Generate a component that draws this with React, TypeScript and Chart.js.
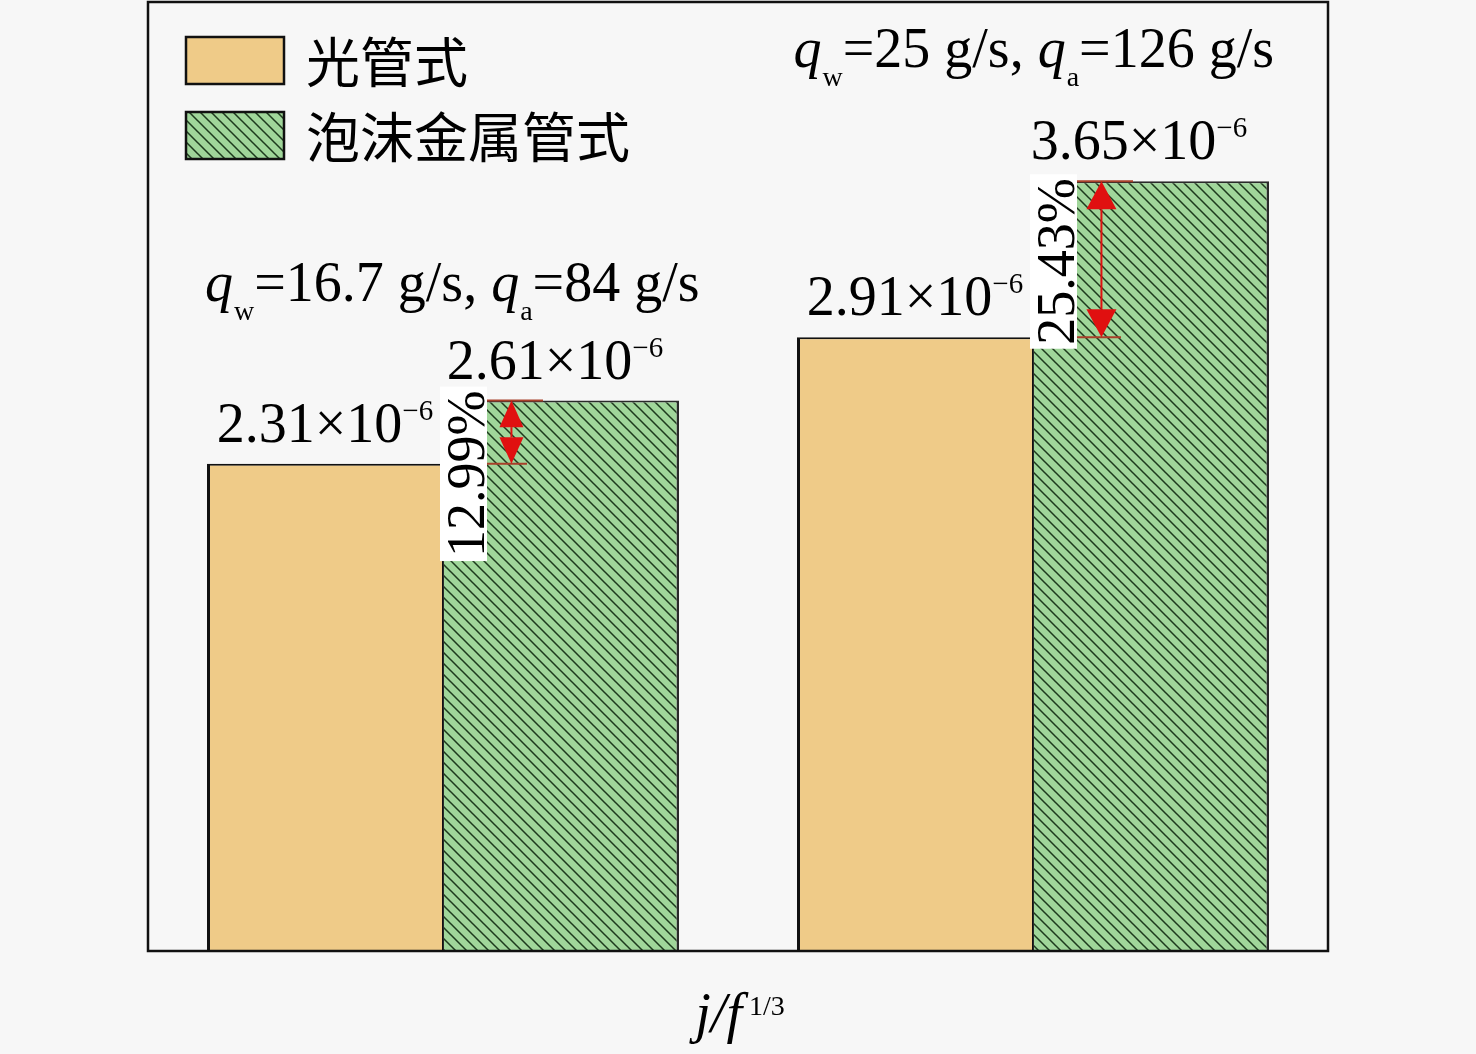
import React, { useEffect, useRef } from "react";
import { Chart, registerables } from "chart.js";

Chart.register(...registerables);

// ---------- data ----------
const categories = ["工况1", "工况2"];
const seriesNames = ["光管式", "泡沫金属管式"];
const smoothTube = [2.31, 2.91];
const foamTube = [2.61, 3.65];
const smoothLabels = ["2.31", "2.91"];
const foamLabels = ["2.61", "3.65"];
const increaseLabels = ["12.99%", "25.43%"];
const waterFlow = ["16.7", "25"];
const airFlow = ["84", "126"];
const exponentText = "−6";
const yMin = 0;
const yMax = 4.5;

// ---------- styles ----------
const BG = "#f7f7f7";
const TAN = "#efcb88";
const GREEN = "#a0d69a";
const HATCH = "#1d3a1d";
const ARROW_RED = "#e01010";
const TICK_RED = "#a8402a";
const SERIF = "'Liberation Serif', 'Times New Roman', 'Noto Sans CJK SC', serif";
const CJK = "'Noto Sans CJK SC', 'Liberation Serif', sans-serif";

type Seg = { t: string; size: number; italic?: boolean; dy?: number; gap?: number };

function segFont(s: Seg) {
  return `${s.italic ? "italic " : ""}${s.size}px ${SERIF}`;
}

function drawRich(ctx: CanvasRenderingContext2D, segs: Seg[], x: number, y: number, align: "left" | "center" | "right") {
  ctx.save();
  ctx.textAlign = "left";
  ctx.textBaseline = "alphabetic";
  const widths = segs.map((s) => {
    ctx.font = segFont(s);
    return ctx.measureText(s.t).width + (s.gap || 0);
  });
  const total = widths.reduce((a, b) => a + b, 0);
  let cx = align === "center" ? x - total / 2 : align === "right" ? x - total : x;
  segs.forEach((s, i) => {
    ctx.font = segFont(s);
    ctx.fillText(s.t, cx, y + (s.dy || 0));
    cx += widths[i];
  });
  ctx.restore();
}

function makeHatch(): CanvasPattern | string {
  const size = 11;
  const c = document.createElement("canvas");
  c.width = size;
  c.height = size;
  const g = c.getContext("2d");
  if (!g) return GREEN;
  g.fillStyle = GREEN;
  g.fillRect(0, 0, size, size);
  g.strokeStyle = HATCH;
  g.lineWidth = 1.5;
  g.beginPath();
  g.moveTo(-1, -1);
  g.lineTo(size + 1, size + 1);
  g.moveTo(-1, size - 1);
  g.lineTo(1, size + 1);
  g.moveTo(size - 1, -1);
  g.lineTo(size + 1, 1);
  g.stroke();
  const p = g.createPattern(c, "repeat");
  return p || GREEN;
}

function valueSegs(label: string): Seg[] {
  return [
    { t: `${label}×10`, size: 56 },
    { t: exponentText, size: 29, dy: -22 },
  ];
}

function conditionSegs(w: string, a: string): Seg[] {
  return [
    { t: "q", size: 56, italic: true, gap: 1 },
    { t: "w", size: 28, dy: 19 },
    { t: `=${w} g/s, `, size: 56 },
    { t: "q", size: 56, italic: true, gap: 1 },
    { t: "a", size: 28, dy: 19 },
    { t: `=${a} g/s`, size: 56 },
  ];
}

function drawTri(ctx: CanvasRenderingContext2D, x: number, tipY: number, dir: number, w: number, h: number) {
  ctx.beginPath();
  ctx.moveTo(x, tipY);
  ctx.lineTo(x - w / 2, tipY + dir * h);
  ctx.lineTo(x + w / 2, tipY + dir * h);
  ctx.closePath();
  ctx.fill();
}

const annotPlugin = {
  id: "annot",
  beforeDraw(chart: any) {
    const ctx = chart.ctx as CanvasRenderingContext2D;
    ctx.save();
    ctx.fillStyle = BG;
    ctx.fillRect(0, 0, chart.width, chart.height);
    ctx.restore();
  },
  afterDatasetsDraw(chart: any) {
    const ctx = chart.ctx as CanvasRenderingContext2D;
    const area = chart.chartArea;
    const m0 = chart.getDatasetMeta(0).data;
    const m1 = chart.getDatasetMeta(1).data;

    ctx.save();
    ctx.fillStyle = "#000";

    for (let i = 0; i < categories.length; i++) {
      const b0 = m0[i];
      const b1 = m1[i];
      // value labels
      drawRich(ctx, valueSegs(smoothLabels[i]), b0.x, b0.y - 22, "center");
      drawRich(ctx, valueSegs(foamLabels[i]), b1.x - (i === 1 ? 12 : 6), b1.y - 22, "center");

      // arrows
      const left1 = b1.x - b1.width / 2;
      const ax = left1 + b1.width * 0.29;
      const yTop = b1.y;
      const yBot = b0.y;
      const span = yBot - yTop;
      const headH = Math.min(28, span * 0.42);
      const headW = i === 0 ? 24 : 30;
      ctx.strokeStyle = TICK_RED;
      ctx.lineWidth = 2;
      ctx.beginPath();
      ctx.moveTo(left1 + 2, yTop);
      ctx.lineTo(left1 + 100, yTop);
      ctx.moveTo(left1 + 2, yBot);
      ctx.lineTo(left1 + (i === 0 ? 84 : 88), yBot);
      ctx.stroke();
      ctx.strokeStyle = ARROW_RED;
      ctx.lineWidth = 2;
      ctx.beginPath();
      ctx.moveTo(ax, yTop + headH);
      ctx.lineTo(ax, yBot - headH);
      ctx.stroke();
      ctx.fillStyle = ARROW_RED;
      drawTri(ctx, ax, yTop, 1, headW, headH);
      drawTri(ctx, ax, yBot, -1, headW, headH);

      // percentage label (rotated)
      ctx.save();
      const baseX = b0.x + b0.width / 2 + 41;
      const endY = yTop - (i === 0 ? 10 : 3);
      ctx.font = `54px ${SERIF}`;
      const tw = ctx.measureText(increaseLabels[i]).width;
      ctx.fillStyle = "#ffffff";
      ctx.fillRect(baseX - 44, endY - 4, 47, tw + 8);
      ctx.translate(baseX, endY);
      ctx.rotate(-Math.PI / 2);
      ctx.fillStyle = "#000";
      ctx.textAlign = "right";
      ctx.textBaseline = "alphabetic";
      ctx.fillText(increaseLabels[i], 0, 0);
      ctx.restore();
      ctx.fillStyle = "#000";
    }

    // condition labels
    {
      const b0 = m0[0];
      const b1 = m1[0];
      drawRich(ctx, conditionSegs(waterFlow[0], airFlow[0]), b0.x - b0.width / 2 - 2, b1.y - 100, "left");
    }
    {
      const b1 = m1[1];
      drawRich(ctx, conditionSegs(waterFlow[1], airFlow[1]), b1.x + b1.width / 2 + 5, b1.y - 114, "right");
    }

    // legend
    const lx = area.left + 38;
    const boxes = [
      { y: area.top + 35, fill: TAN as any },
      { y: area.top + 110, fill: chart.data.datasets[1].backgroundColor },
    ];
    boxes.forEach((b, k) => {
      ctx.fillStyle = b.fill;
      ctx.fillRect(lx, b.y, 98, 47);
      ctx.strokeStyle = "#111";
      ctx.lineWidth = 2.5;
      ctx.strokeRect(lx, b.y, 98, 47);
      ctx.fillStyle = "#000";
      ctx.font = `54px ${CJK}`;
      ctx.textAlign = "left";
      ctx.textBaseline = "middle";
      ctx.fillText(seriesNames[k], lx + 120, b.y + 25);
    });

    // frame
    ctx.strokeStyle = "#111";
    ctx.lineWidth = 2.5;
    ctx.strokeRect(area.left, area.top, area.right - area.left, area.bottom - area.top);

    // axis title
    ctx.fillStyle = "#000";
    drawRich(
      ctx,
      [
        { t: "j/f", size: 56, italic: true, gap: 7 },
        { t: "1/3", size: 28, dy: -17 },
      ],
      (area.left + area.right) / 2 + 2,
      area.bottom + 81,
      "center"
    );
    ctx.restore();
  },
};

export default function App() {
  const ref = useRef<HTMLCanvasElement | null>(null);

  useEffect(() => {
    document.body.style.margin = "0";
    document.body.style.background = BG;
    const canvas = ref.current;
    if (!canvas) return;
    const hatch = makeHatch();
    const chart = new Chart(canvas, {
      type: "bar",
      data: {
        labels: categories,
        datasets: [
          {
            label: seriesNames[0],
            data: smoothTube,
            backgroundColor: TAN,
            borderColor: "#111",
            borderWidth: { left: 3, top: 2, right: 1, bottom: 0 },
            borderSkipped: "bottom",
          },
          {
            label: seriesNames[1],
            data: foamTube,
            backgroundColor: hatch as any,
            borderColor: "#2a2a2a",
            borderWidth: { left: 1, top: 2, right: 2.5, bottom: 0 },
            borderSkipped: "bottom",
          },
        ],
      },
      options: {
        responsive: false,
        animation: false,
        devicePixelRatio: 1,
        layout: { padding: { left: 148, right: 148, top: 2, bottom: 103 } },
        datasets: { bar: { categoryPercentage: 0.8, barPercentage: 1.0 } },
        plugins: { legend: { display: false }, tooltip: { enabled: false }, title: { display: false } },
        scales: {
          x: { display: false, grid: { display: false } },
          y: { display: false, min: yMin, max: yMax, grid: { display: false } },
        },
      },
      plugins: [annotPlugin],
    });
    return () => chart.destroy();
  }, []);

  return (
    <div style={{ position: "fixed", left: 0, top: 0, width: 1476, height: 1054, background: BG }}>
      <canvas ref={ref} width={1476} height={1054} style={{ display: "block", width: 1476, height: 1054 }} />
    </div>
  );
}
